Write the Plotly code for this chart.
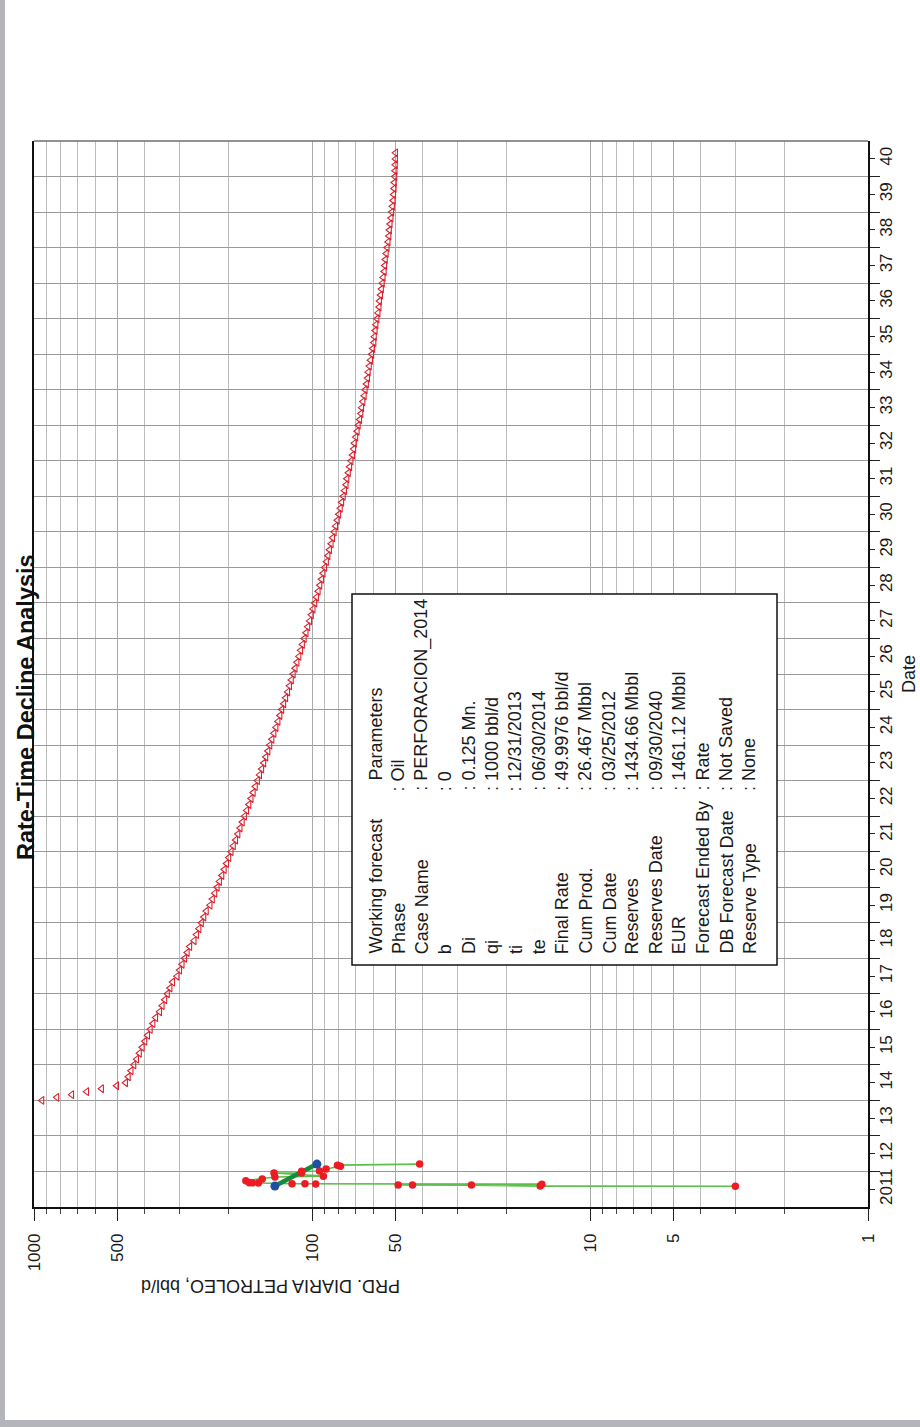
import plotly.graph_objects as go
import pandas as pd

# ---------------- data ----------------
# historic daily production (date, rate bbl/d)
hist_dates = ["2011-08-02", "2011-08-04", "2011-08-14", "2011-08-15", "2011-08-16",
              "2011-08-24", "2011-08-26", "2011-08-27", "2011-08-28", "2011-09-05",
              "2011-09-06", "2011-09-07", "2011-09-28", "2011-10-16", "2011-11-06",
              "2011-11-14", "2011-12-16", "2011-12-17", "2012-01-04", "2012-01-05",
              "2012-01-26", "2012-02-24", "2012-03-06", "2012-03-17"]
hist_rates = [3.0, 15.1, 26.7, 43.5, 49.0,
              14.9, 97.0, 106.0, 118.0, 156.0,
              164.0, 168.0, 173.0, 151.0, 136.0,
              91.0, 137.0, 109.0, 109.0, 94.0,
              89.0, 79.0, 81.0, 41.0]

# fitted segment end points
fit_dates = ["2011-08-04", "2012-03-17"]
fit_rates = [136.0, 96.0]

# forecast: first months (monthly)
fc_early_dates = ["2014-01-01", "2014-02-01", "2014-03-01", "2014-04-01", "2014-05-01", "2014-06-01"]
fc_early_rates = [936, 827, 731, 646, 571, 504]

# forecast tail (every two months from 2014-07)
fc_tail_start = "2014-07-01"
fc_tail_rates = [
    468.0, 457.4, 447.0, 436.8, 426.9, 417.2,
    407.7, 398.7, 389.9, 381.3, 372.9, 364.6,
    353.0, 345.5, 338.1, 330.9, 323.8, 316.9,
    305.4, 299.0, 292.9, 286.7, 280.8, 275.0,
    265.2, 260.0, 254.7, 249.6, 244.6, 239.7,
    232.4, 227.9, 223.4, 219.1, 214.9, 210.7,
    206.6, 202.7, 198.9, 195.2, 191.6, 188.0,
    184.5, 181.2, 177.9, 174.7, 171.6, 168.4,
    165.4, 162.5, 159.7, 156.9, 154.2, 151.5,
    148.9, 146.4, 143.9, 141.6, 139.2, 136.9,
    134.6, 132.4, 130.3, 128.3, 126.2, 124.2,
    122.2, 120.3, 118.5, 116.7, 114.9, 113.1,
    111.3, 109.7, 108.1, 106.5, 104.9, 103.4,
    101.8, 100.4, 99.0, 97.6, 96.2, 94.9,
    93.6, 92.3, 91.1, 89.9, 88.6, 87.5,
    86.4, 85.2, 84.2, 83.1, 82.1, 81.0,
    80.0, 79.0, 78.1, 77.1, 76.3, 75.3,
    74.8, 73.9, 73.1, 72.3, 71.4, 70.7,
    70.3, 69.5, 68.7, 68.1, 67.3, 66.6,
    66.2, 65.5, 64.8, 64.3, 63.6, 63.0,
    62.7, 62.1, 61.5, 60.9, 60.4, 59.8,
    59.6, 59.2, 58.8, 58.3, 57.8, 57.3,
    57.1, 56.6, 56.2, 55.8, 55.4, 54.9,
    54.7, 54.4, 54.0, 53.6, 53.2, 52.8,
    52.6, 52.3, 51.9, 51.6, 51.3, 51.0,
    50.8, 50.6, 50.5, 50.3, 50.2, 50.1,
    50.0, 50.0]
fc_tail_dates = pd.date_range(start=fc_tail_start, periods=len(fc_tail_rates), freq="2MS")

# axis ticks
rate_major = [1000, 500, 100, 50, 10, 5, 1]
rate_minor = [900, 800, 700, 600, 400, 300, 200, 90, 80, 70, 60, 40, 30, 20,
              9, 8, 7, 6, 4, 3, 2]
years = list(range(2011, 2041))
year_labels = ["2011"] + [str(y)[2:] for y in years[1:]]

# parameter box
param_labels = ["Working forecast", "Phase", "Case Name", "b", "Di", "qi", "ti", "te",
                "Final Rate", "Cum Prod.", "Cum Date", "Reserves", "Reserves Date", "EUR",
                "Forecast Ended By", "DB Forecast Date", "Reserve Type"]
param_values = ["Parameters", ": Oil", ": PERFORACION_2014", ": 0", ": 0.125 Mn.",
                ": 1000 bbl/d", ": 12/31/2013", ": 06/30/2014", ": 49.9976 bbl/d",
                ": 26.467 Mbbl", ": 03/25/2012", ": 1434.66 Mbbl", ": 09/30/2040",
                ": 1461.12 Mbbl", ": Rate", ": Not Saved", ": None"]

# ---------------- layout geometry (pixels) ----------------
W, H = 920, 1427
L, R, T, B = 34, 52, 141, 220
PW, PH = W - L - R, H - T - B

def px(x):
    return (x - L) / PW

def py(y):
    return (H - B - y) / PH

FONT = "Liberation Sans Narrow, Arial Narrow, Liberation Sans, Arial, sans-serif"

fig = go.Figure()

# historic thin green line + red points
fig.add_trace(go.Scatter(x=hist_rates, y=hist_dates, mode="lines",
                         line=dict(color="#5cbf4a", width=1.6), hoverinfo="skip"))
fig.add_trace(go.Scatter(x=fit_rates, y=fit_dates, mode="lines",
                         line=dict(color="#138a3e", width=4.5)))
fig.add_trace(go.Scatter(x=hist_rates, y=hist_dates, mode="markers",
                         marker=dict(color="#ec1c24", size=7.5, symbol="circle")))
fig.add_trace(go.Scatter(x=fit_rates, y=fit_dates, mode="markers",
                         marker=dict(color="#1f4fa0", size=9, symbol="circle")))

# forecast triangles
tri = dict(symbol="triangle-left-open", size=7, color="#d9222f", line=dict(width=1.1, color="#d9222f"))
fig.add_trace(go.Scatter(x=fc_early_rates, y=fc_early_dates, mode="markers", marker=tri))
fig.add_trace(go.Scatter(x=fc_tail_rates, y=fc_tail_dates, mode="markers", marker=tri))

fig.update_layout(
    width=W, height=H, autosize=False,
    margin=dict(l=L, r=R, t=T, b=B, pad=0),
    paper_bgcolor="white", plot_bgcolor="white",
    showlegend=False,
    font=dict(family=FONT, size=18, color="#1a1a1a"),
    xaxis=dict(
        type="log", range=[3, 0], side="bottom", automargin=False,
        tickmode="array", tickvals=rate_major, ticktext=[str(v) for v in rate_major],
        tickangle=-90, ticks="outside", ticklen=12, tickcolor="#222", tickwidth=1,
        ticklabelstandoff=6,
        showgrid=True, gridcolor="#a9a9a9", gridwidth=1,
        minor=dict(tickmode="array", tickvals=rate_minor, showgrid=True,
                   gridcolor="#bdbdbd", gridwidth=1, ticks="outside", ticklen=5,
                   tickcolor="#444"),
        showline=True, linecolor="#111", linewidth=1.5, mirror=False,
        zeroline=False, tickfont=dict(family=FONT, size=17),
    ),
    yaxis=dict(
        type="date", range=["2011-01-01", "2041-01-01"], side="right", automargin=False,
        tickmode="array", tickvals=[f"{y}-07-02" for y in years], ticktext=year_labels,
        tickangle=-90, ticks="outside", ticklen=5, tickcolor="#222",
        ticklabelstandoff=-3,
        showgrid=False,
        minor=dict(tickmode="array", tickvals=[f"{y}-01-01" for y in years[1:]],
                   showgrid=True, gridcolor="#9a9a9a", gridwidth=1,
                   ticks="outside", ticklen=10, tickcolor="#222"),
        showline=True, linecolor="#111", linewidth=1.5, mirror=True,
        zeroline=False, tickfont=dict(family=FONT, size=17),
        title=dict(text="Date", standoff=7, font=dict(family=FONT, size=18)),
    ),
)

shapes = []
# top border (grey)
shapes.append(dict(type="line", xref="paper", yref="paper", x0=0, x1=1, y0=1, y1=1,
                   line=dict(color="#6e6e6e", width=1.5)))
# page shadow left and bottom
shapes.append(dict(type="rect", xref="paper", yref="paper", x0=px(0), x1=px(5),
                   y0=py(H), y1=py(0), fillcolor="#b4b4bb", line=dict(width=0), layer="below"))
shapes.append(dict(type="rect", xref="paper", yref="paper", x0=px(0), x1=px(W),
                   y0=py(H), y1=py(1420), fillcolor="#b4b4bb", line=dict(width=0), layer="below"))
# parameter box
shapes.append(dict(type="rect", xref="paper", yref="paper", x0=px(352), x1=px(777),
                   y0=py(965), y1=py(594), fillcolor="white",
                   line=dict(color="#111", width=1.5), layer="above"))
fig.update_layout(shapes=shapes)

ann = []
ann.append(dict(text="<b>Rate-Time Decline Analysis</b>", xref="paper", yref="paper",
                x=px(26), y=py(707), textangle=-90, showarrow=False,
                xanchor="center", yanchor="middle",
                font=dict(family=FONT, size=23.5, color="#111")))
ann.append(dict(text="PRD. DIARIA PETROLEO, bbl/d", xref="paper", yref="paper",
                x=px(271), y=py(1286), textangle=180, showarrow=False,
                xanchor="center", yanchor="middle", font=dict(family=FONT, size=18)))
for i, (lab, val) in enumerate(zip(param_labels, param_values)):
    cx = 375 + i * 23.4
    ann.append(dict(text=lab, xref="paper", yref="paper", x=px(cx), y=py(956),
                    textangle=-90, showarrow=False, xanchor="center", yanchor="bottom",
                    font=dict(family=FONT, size=18)))
    ystart = 783 if i == 0 else 793
    ann.append(dict(text=val, xref="paper", yref="paper", x=px(cx), y=py(ystart),
                    textangle=-90, showarrow=False, xanchor="center", yanchor="bottom",
                    font=dict(family=FONT, size=18)))
fig.update_layout(annotations=ann)

fig.write_html("out.html")
